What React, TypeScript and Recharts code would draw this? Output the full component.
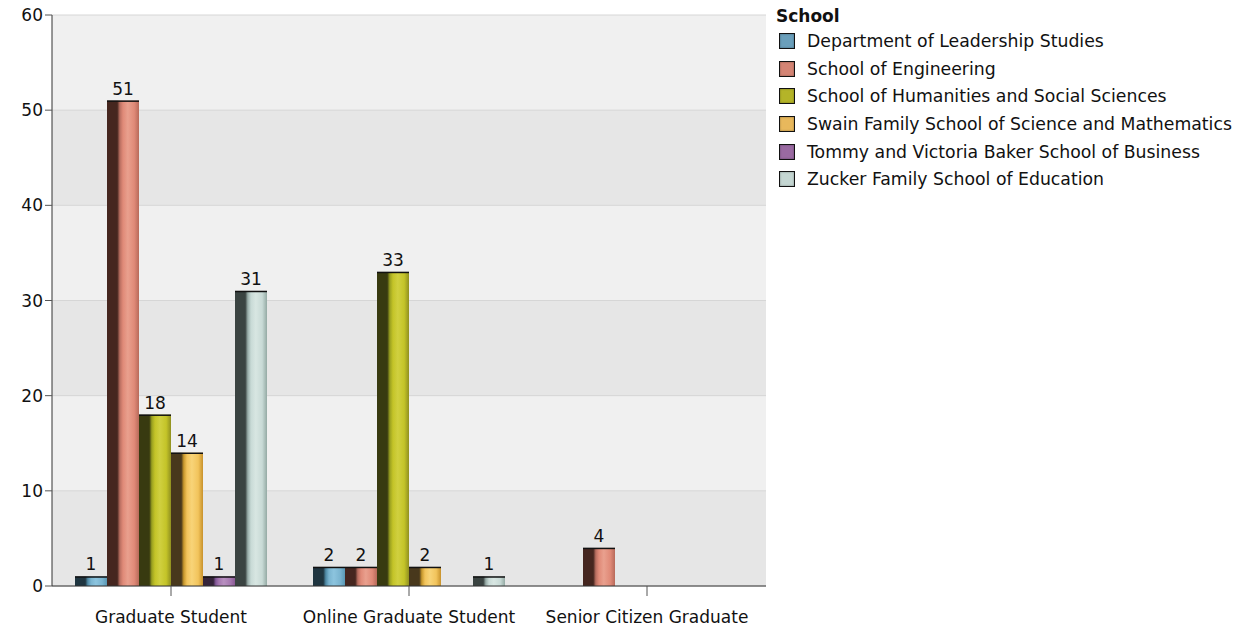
import React from 'react';
import { BarChart, Bar, XAxis, YAxis, CartesianGrid, LabelList } from 'recharts';

const categories = ['Graduate Student', 'Online Graduate Student', 'Senior Citizen Graduate'];
const seriesNames = [
  'Department of Leadership Studies',
  'School of Engineering',
  'School of Humanities and Social Sciences',
  'Swain Family School of Science and Mathematics',
  'Tommy and Victoria Baker School of Business',
  'Zucker Family School of Education',
];
const leadership = [1, 2, null];
const engineering = [51, 2, 4];
const humanities = [18, 33, null];
const swain = [14, 2, null];
const business = [1, null, null];
const education = [31, 1, null];
const yTicks = [0, 10, 20, 30, 40, 50, 60];

const seriesValues = [leadership, engineering, humanities, swain, business, education];
const keys = ['s0', 's1', 's2', 's3', 's4', 's5'];
const palette = [
  { dark: '#1f3540', mid: '#4f8aa6', bright: '#7ab4d0', light: '#8cc4de', edge: '#5a98b4', sw: '#6a9fbb' },
  { dark: '#45261f', mid: '#b86e60', bright: '#e08a78', light: '#e9a08e', edge: '#b86a5a', sw: '#d48474' },
  { dark: '#383a10', mid: '#9aa020', bright: '#c4c428', light: '#d0d040', edge: '#909020', sw: '#b4b428' },
  { dark: '#48381c', mid: '#c8982c', bright: '#f2c45c', light: '#f8d478', edge: '#c8922c', sw: '#e8b85c' },
  { dark: '#35243a', mid: '#84589a', bright: '#a678b0', light: '#b890c0', edge: '#8a5a94', sw: '#9a6aa2' },
  { dark: '#3a4341', mid: '#98aca8', bright: '#c8dad6', light: '#d8e6e2', edge: '#94aaa4', sw: '#c4d6d2' },
];

const data = categories.map((c, i) => {
  const row: any = { name: c };
  seriesValues.forEach((s, j) => { row[keys[j]] = s[i]; });
  return row;
});

const FONT = '"DejaVu Sans", Verdana, sans-serif';
const FS = 17;

const makeShape = (idx: number) => (props: any) => {
  const { x, y, width, height } = props;
  if (height == null || height <= 0 || width <= 0) return <g />;
  return (
    <g>
      <rect x={x} y={y} width={width} height={height} fill={`url(#grad${idx})`} />
      <line x1={x} x2={x + width} y1={y + 0.5} y2={y + 0.5} stroke="#111" strokeWidth={1.5} />
    </g>
  );
};

const shapes = keys.map((_, i) => makeShape(i));

export default function App() {
  return (
    <div style={{ position: 'absolute', left: 0, top: 0, width: 1238, height: 628, background: '#fff', fontFamily: FONT }}>
      <BarChart
        width={1238}
        height={628}
        data={data}
        margin={{ top: 15, right: 472, bottom: 0, left: 0 }}
        barCategoryGap={23}
        barGap={0}
      >
        <defs>
          {palette.map((p, i) => (
            <linearGradient key={i} id={`grad${i}`} x1="0" y1="0" x2="1" y2="0">
              <stop offset="0%" stopColor={p.dark} />
              <stop offset="32%" stopColor={p.dark} />
              <stop offset="40%" stopColor={p.mid} />
              <stop offset="50%" stopColor={p.bright} />
              <stop offset="65%" stopColor={p.light} />
              <stop offset="85%" stopColor={p.bright} />
              <stop offset="100%" stopColor={p.edge} />
            </linearGradient>
          ))}
        </defs>
        <CartesianGrid
          vertical={false}
          stroke="#d6d6d6"
          horizontalFill={['#f0f0f0', '#e6e6e6']}
          fillOpacity={1}
        />
        <XAxis
          dataKey="name"
          height={42}
          stroke="#333"
          tickLine={{ stroke: '#555' }}
          tickSize={10}
          tick={{ fill: '#111', fontSize: FS, fontFamily: FONT, dy: 13 }}
        />
        <YAxis
          width={52}
          domain={[0, 60]}
          ticks={yTicks}
          stroke="#333"
          tickLine={{ stroke: '#555' }}
          tickSize={7}
          tick={{ fill: '#111', fontSize: FS, fontFamily: FONT }}
          interval={0}
        />
        {keys.map((k, i) => (
          <Bar key={k} dataKey={k} name={seriesNames[i]} isAnimationActive={false} shape={shapes[i]}>
            <LabelList dataKey={k} position="top" offset={6} fill="#111" fontSize={FS} fontFamily={FONT} />
          </Bar>
        ))}
      </BarChart>
      <div style={{ position: 'absolute', left: 776, top: 5, fontFamily: FONT, color: '#111' }}>
        <div style={{ fontWeight: 'bold', fontSize: FS, height: 22, lineHeight: '22px' }}>School</div>
        {seriesNames.map((n, i) => (
          <div key={n} style={{ display: 'flex', alignItems: 'center', height: 27.7, fontSize: 17.3 }}>
            <div style={{ width: 14, height: 14, marginLeft: 3, marginRight: 12, border: '1.5px solid #111', background: palette[i].sw, boxShadow: 'inset 0 0 2px rgba(0,0,0,0.4)' }} />
            <span>{n}</span>
          </div>
        ))}
      </div>
    </div>
  );
}
